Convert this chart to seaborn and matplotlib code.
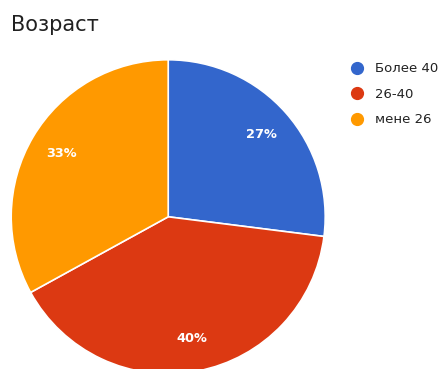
import matplotlib
matplotlib.use("Agg")
import matplotlib.pyplot as plt
import seaborn as sns
from matplotlib.lines import Line2D

sns.set_style("white")
plt.rcParams['font.family'] = ['DejaVu Sans']

categories = ["Более 40", "26-40", "мене 26"]
values = [27, 40, 33]
colors = ["#3366CC", "#DC3912", "#FF9900"]
title = "Возраст"

fig = plt.figure(figsize=(4.45, 3.69), dpi=100)
ax = fig.add_axes([0.025, -0.013, 0.706, 0.851])
wedges, texts, autotexts = ax.pie(
    values, colors=colors, startangle=90, counterclock=False,
    autopct=lambda p: f"{p:.0f}%", pctdistance=0.79,
    wedgeprops=dict(edgecolor="white", linewidth=1.2),
    textprops=dict(color="white", fontsize=9.3, fontweight="bold"))
ax.set_aspect("equal")
ax.set_xlim(-1, 1)
ax.set_ylim(-1, 1)

fig.text(11 / 445, 1 - 25 / 369, title, fontsize=15, color="#212121",
         ha="left", va="center")

handles = [Line2D([0], [0], marker="o", linestyle="", markersize=8.5,
                  markerfacecolor=c, markeredgecolor=c) for c in colors]
fig.legend(handles, categories, loc="upper left",
           bbox_to_anchor=(345.5 / 445, 1 - 57 / 369), frameon=False,
           fontsize=9.5, handletextpad=0.8, labelspacing=0.95,
           handlelength=1.0, borderaxespad=0, labelcolor="#222222")

fig.savefig("out.png", dpi=100)
